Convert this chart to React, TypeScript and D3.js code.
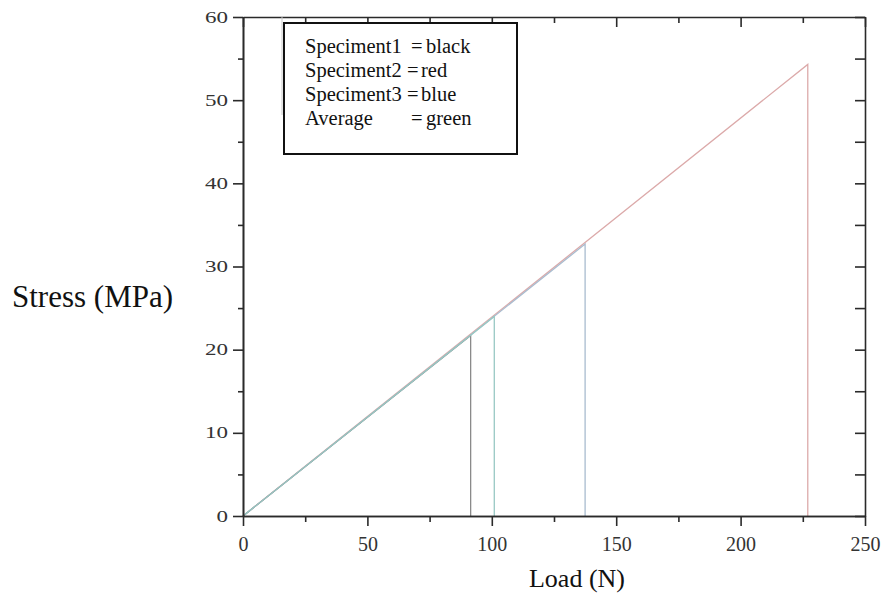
import React, { useEffect, useRef } from 'react';
import * as d3 from 'd3';

// each specimen: linear loading up to failure load, then drop to zero
const seriesNames = ['Speciment1', 'Speciment2', 'Speciment3', 'Average'];
const failureLoad = [91.5, 227, 137.5, 101]; // N
const failureStress = [21.7, 54.3, 32.7, 24.0]; // MPa
const seriesColors = ['#8a8a8a', '#dcaaaa', '#a9bccf', '#98c8c4'];
const legendLabels = ['black', 'red', 'blue', 'green'];
const xTicks = [0, 50, 100, 150, 200, 250];
const yTicks = [0, 10, 20, 30, 40, 50, 60];

const App = () => {
  const ref = useRef<SVGSVGElement>(null);

  useEffect(() => {
    const svg = d3.select(ref.current);
    svg.selectAll('*').remove();

    const left = 243, right = 865, top = 17, bottom = 516;
    const font = '"Liberation Serif", "Times New Roman", serif';

    const x = d3.scaleLinear().domain([0, 250]).range([left, right]);
    const y = d3.scaleLinear().domain([0, 60]).range([bottom, top]);

    // data lines (drawn first so axes sit on top)
    const line = d3.line<[number, number]>().x(d => x(d[0])).y(d => y(d[1]));
    const order = [1, 2, 0, 3];
    order.forEach(i => {
      const pts: [number, number][] = [[0, 0], [failureLoad[i], failureStress[i]], [failureLoad[i], 0]];
      svg.append('path')
        .attr('d', line(pts))
        .attr('fill', 'none')
        .attr('stroke', seriesColors[i])
        .attr('stroke-width', 1.3);
    });

    const axisColor = '#2a2a2a';
    const minorX = d3.range(0, 251, 25);
    const minorY = d3.range(0, 61, 5);

    // bottom
    svg.append('g').attr('transform', `translate(0,${bottom})`)
      .call(d3.axisBottom(x).tickValues(minorX.filter(v => v % 50 !== 0)).tickSize(6).tickFormat(() => '').tickSizeOuter(0));
    const gx = svg.append('g').attr('transform', `translate(0,${bottom})`)
      .call(d3.axisBottom(x).tickValues(xTicks).tickSize(10).tickPadding(11).tickSizeOuter(0));
    gx.selectAll('text').attr('font-size', 20).attr('font-family', font).attr('fill', '#333');

    // left
    svg.append('g').attr('transform', `translate(${left},0)`)
      .call(d3.axisLeft(y).tickValues(minorY.filter(v => v % 10 !== 0)).tickSize(5).tickFormat(() => '').tickSizeOuter(0));
    const gy = svg.append('g').attr('transform', `translate(${left},0)`)
      .call(d3.axisLeft(y).tickValues(yTicks).tickSize(10).tickPadding(5).tickSizeOuter(0));
    gy.selectAll('text')
      .attr('font-size', 16).attr('font-family', font).attr('fill', '#333')
      .attr('textLength', (d: any) => String(d).length * 11.5)
      .attr('lengthAdjust', 'spacingAndGlyphs');

    // top (ticks inward)
    svg.append('g').attr('transform', `translate(0,${top})`)
      .call(d3.axisTop(x).tickValues(minorX).tickSize(0).tickFormat(() => '').tickSizeOuter(0))
      .call(g => g.selectAll('.tick line').attr('y2', (d: any) => (d % 50 === 0 ? 10 : 6)));

    // right (ticks inward)
    svg.append('g').attr('transform', `translate(${right},0)`)
      .call(d3.axisRight(y).tickValues(minorY).tickSize(-10).tickFormat(() => '').tickSizeOuter(0));

    svg.selectAll('.domain, .tick line').attr('stroke', axisColor).attr('stroke-width', 1.6);

    // legend
    const lg = svg.append('g');
    lg.append('line').attr('x1', 282).attr('x2', 282).attr('y1', top).attr('y2', 115)
      .attr('stroke', '#c8c8c8').attr('stroke-width', 1);
    lg.append('rect').attr('x', 284).attr('y', 23).attr('width', 233).attr('height', 131)
      .attr('fill', '#fff').attr('stroke', '#111').attr('stroke-width', 2);
    const eqX = [411, 407, 407, 411];
    const wordX = [426, 421, 421, 426];
    seriesNames.forEach((name, i) => {
      const yy = 53 + i * 24;
      const t = (xx: number, s: string) => lg.append('text').attr('x', xx).attr('y', yy)
        .attr('font-family', font).attr('font-size', 20.5).attr('fill', '#111').text(s);
      t(305, name);
      t(eqX[i], '=');
      t(wordX[i], legendLabels[i]);
    });

    // axis titles
    svg.append('text').attr('x', 12).attr('y', 307)
      .attr('font-family', font).attr('font-size', 31).attr('fill', '#111')
      .text('Stress (MPa)');
    svg.append('text').attr('x', 577).attr('y', 587).attr('text-anchor', 'middle')
      .attr('font-family', font).attr('font-size', 26).attr('fill', '#111')
      .text('Load (N)');
  }, []);

  return <svg ref={ref} width={881} height={596} style={{ position: 'absolute', left: 0, top: 0, background: '#fff' }} />;
};

export default App;
